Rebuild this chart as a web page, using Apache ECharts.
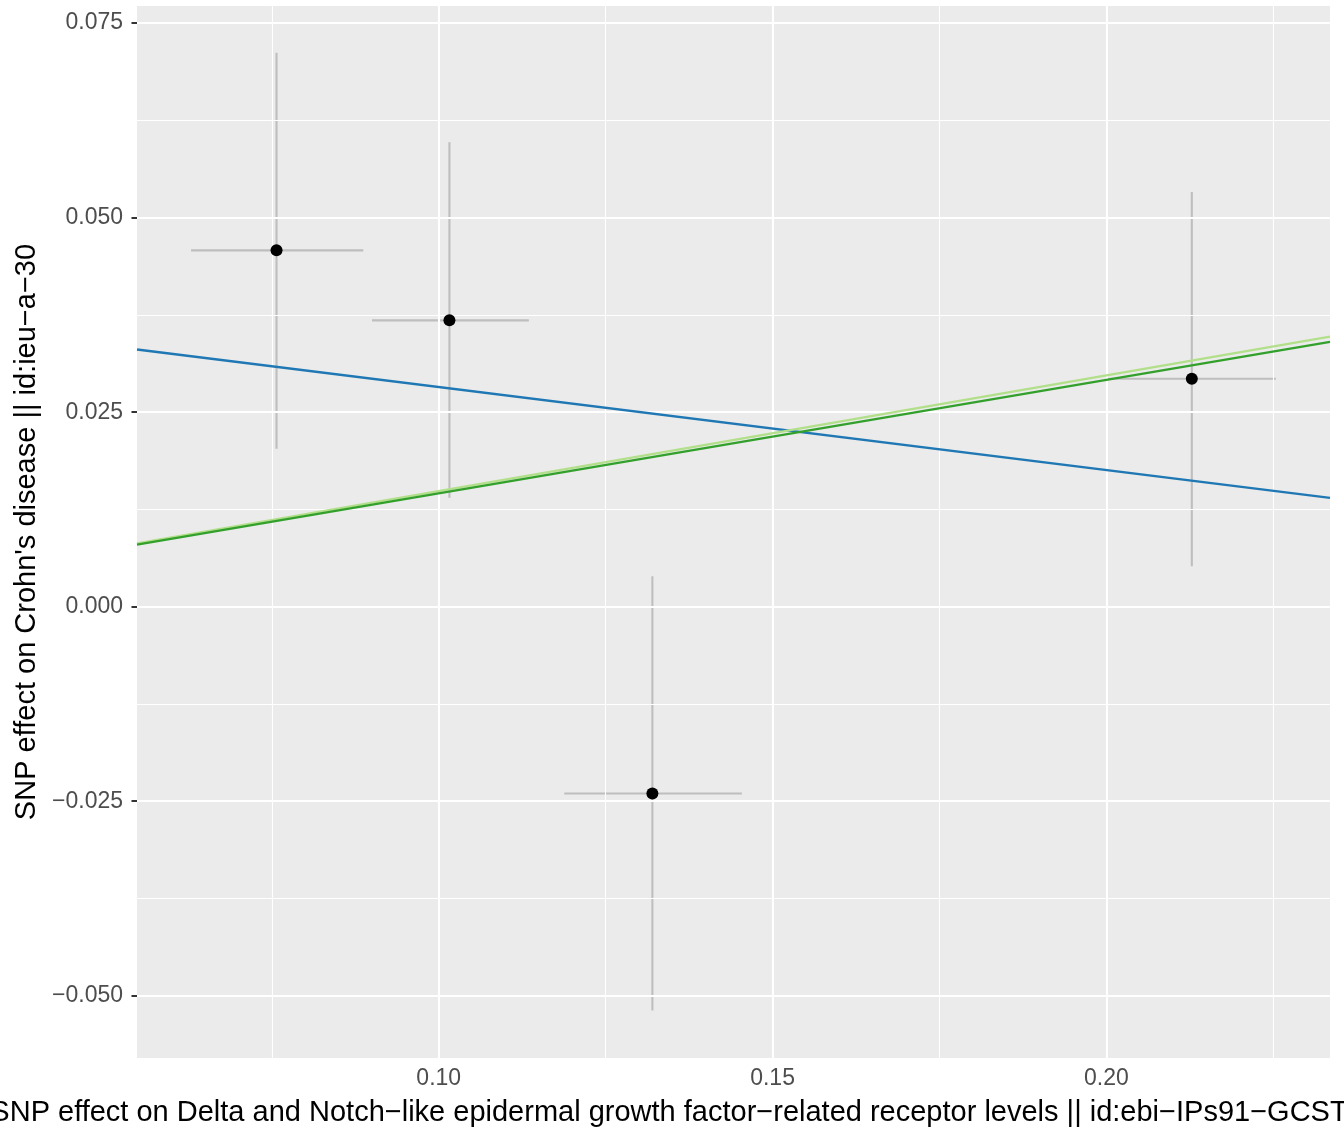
<!DOCTYPE html>
<html><head><meta charset="utf-8">
<script src="https://cdn.jsdelivr.net/npm/echarts@6/dist/echarts.min.js"></script>
<style>html,body{margin:0;padding:0;background:#fff}#c{width:1344px;height:1143px}</style>
</head><body><div id="c"></div>
<script>
// ---- data ----
const snpX  = [0.0757, 0.1016, 0.1320, 0.2128];
const snpY  = [0.0458, 0.0368, -0.0240, 0.0293];
const xLow  = [0.0629, 0.0900, 0.1188, 0.2002];
const xHigh = [0.0887, 0.1135, 0.1454, 0.2254];
const yLow  = [0.0203, 0.0140, -0.0519, 0.0052];
const yHigh = [0.0712, 0.0597, 0.0039, 0.0533];

const methodNames = ['MR Egger', 'Weighted median', 'Inverse variance weighted'];
const slopes      = [-0.1067, 0.1486, 0.1458];
const intercepts  = [0.0389, 0, 0];

const xRange = [0.0548, 0.2335];
const yRange = [-0.0580, 0.0772];
const xTicks = [0.10, 0.15, 0.20];
const xMinorTicks = [0.075, 0.125, 0.175, 0.225];
const yTicks = [-0.050, -0.025, 0.000, 0.025, 0.050, 0.075];
const yMinorTicks = [-0.0375, -0.0125, 0.0125, 0.0375, 0.0625];

const xTitle = 'SNP effect on Delta and Notch\u2212like epidermal growth factor\u2212related receptor levels || id:ebi\u2212IPs91\u2212GCST90010325';
const yTitle = 'SNP effect on Crohn\'s disease || id:ieu\u2212a\u221230';

// ---- styles ----
const lineColors = ['#1F78B4', '#B2DF8A', '#33A02C'];
const FONT = 'Liberation Sans, Arial, sans-serif';

const chart = echarts.init(document.getElementById('c'), null, {renderer: 'canvas'});

const gridLines = [];
xTicks.forEach(v => gridLines.push({xAxis: v, lineStyle: {width: 2.1}}));
xMinorTicks.forEach(v => gridLines.push({xAxis: v, lineStyle: {width: 1.1}}));
yTicks.forEach(v => gridLines.push({yAxis: v, lineStyle: {width: 2.1}}));
yMinorTicks.forEach(v => gridLines.push({yAxis: v, lineStyle: {width: 1.1}}));

const errData = snpX.map((x, i) => [x, snpY[i], xLow[i], xHigh[i], yLow[i], yHigh[i]]);

const lineSeries = methodNames.map((name, i) => ({
  name: name,
  type: 'line',
  z: 10 + i,
  symbol: 'none',
  silent: true,
  lineStyle: {color: lineColors[i], width: 2.3},
  data: [
    [xRange[0], intercepts[i] + slopes[i] * xRange[0]],
    [xRange[1], intercepts[i] + slopes[i] * xRange[1]]
  ]
}));

const option = {
  animation: false,
  backgroundColor: '#ffffff',
  textStyle: {fontFamily: FONT},
  grid: {
    left: 137, right: 14, top: 6, bottom: 85,
    show: true, backgroundColor: '#EBEBEB', borderWidth: 0,
    containLabel: false, outerBoundsMode: 'none'
  },
  xAxis: {
    type: 'value',
    min: xRange[0], max: xRange[1],
    axisLine: {show: false},
    splitLine: {show: false},
    axisTick: {show: true, customValues: xTicks, length: 5.5, lineStyle: {color: '#333333', width: 2}},
    axisLabel: {
      customValues: xTicks, margin: 9, color: '#4D4D4D', fontSize: 23, fontFamily: FONT,
      formatter: v => v.toFixed(2)
    },
    name: xTitle,
    nameLocation: 'middle',
    nameGap: 40,
    nameTextStyle: {color: '#000', fontSize: 29, fontFamily: FONT}
  },
  yAxis: {
    type: 'value',
    min: yRange[0], max: yRange[1],
    axisLine: {show: false},
    splitLine: {show: false},
    axisTick: {show: true, customValues: yTicks, length: 5.5, lineStyle: {color: '#333333', width: 2}},
    axisLabel: {
      customValues: yTicks, margin: 14, color: '#4D4D4D', fontSize: 23, fontFamily: FONT,
      formatter: v => (Math.abs(v) < 1e-12 ? 0 : v).toFixed(3).replace('-', '\u2212')
    },
    name: yTitle,
    nameLocation: 'middle',
    nameGap: 96,
    nameRotate: 90,
    nameTextStyle: {color: '#000', fontSize: 29, fontFamily: FONT}
  },
  series: [
    {
      type: 'scatter',
      data: [],
      z: 1,
      silent: true,
      markLine: {
        silent: true,
        precision: 10,
        symbol: ['none', 'none'],
        label: {show: false},
        animation: false,
        lineStyle: {color: '#ffffff', type: 'solid'},
        data: gridLines
      }
    },
    {
      type: 'custom',
      z: 2,
      silent: true,
      data: errData,
      encode: {x: 0, y: 1},
      renderItem: function (params, api) {
        const x = api.value(0), y = api.value(1);
        const pL = api.coord([api.value(2), y]);
        const pR = api.coord([api.value(3), y]);
        const pB = api.coord([x, api.value(4)]);
        const pT = api.coord([x, api.value(5)]);
        const st = {stroke: '#BEBEBE', lineWidth: 2.1};
        return {
          type: 'group',
          children: [
            {type: 'line', shape: {x1: pB[0], y1: pB[1], x2: pT[0], y2: pT[1]}, style: st},
            {type: 'line', shape: {x1: pL[0], y1: pL[1], x2: pR[0], y2: pR[1]}, style: st}
          ]
        };
      }
    },
    {
      type: 'scatter',
      z: 6,
      silent: true,
      symbol: 'circle',
      symbolSize: 12,
      itemStyle: {color: '#000000', opacity: 1},
      data: snpX.map((x, i) => [x, snpY[i]])
    }
  ].concat(lineSeries)
};

chart.setOption(option);
</script>
</body></html>
